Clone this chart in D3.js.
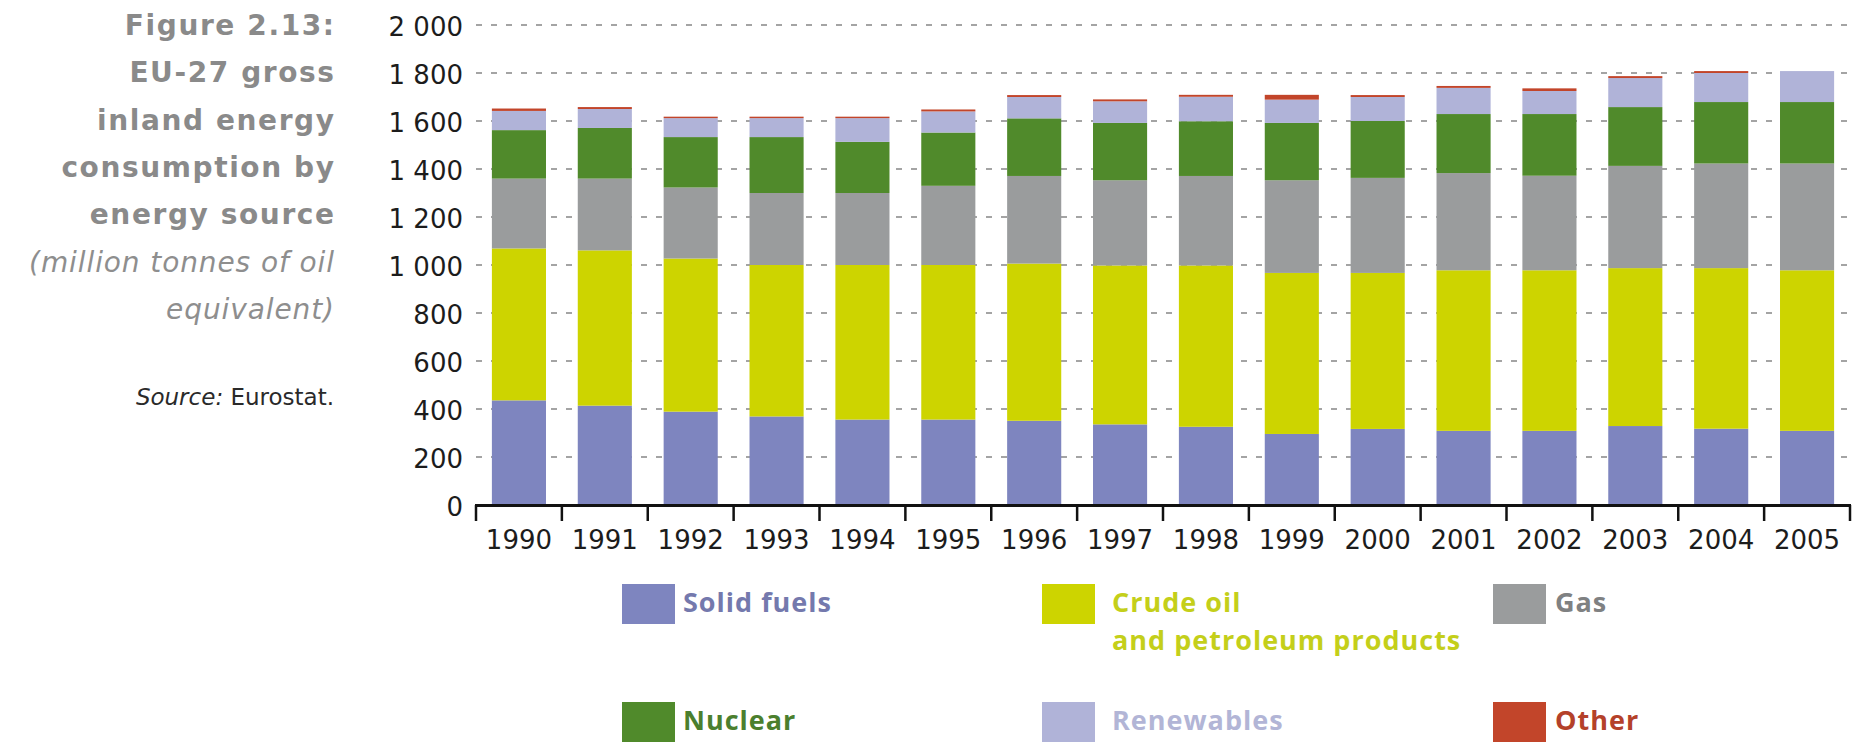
<!DOCTYPE html>
<html>
<head>
<meta charset="utf-8">
<script src="https://cdn.jsdelivr.net/npm/d3@7/dist/d3.min.js"></script>
<style>
  html, body { margin: 0; background: #fff; }
  svg { display: block; }
  .tick-label { font-family: "DejaVu Sans", sans-serif; font-size: 26px; fill: #1c1c1c; }
  .title { font-family: "DejaVu Sans", sans-serif; font-weight: bold; font-size: 28px; fill: #8a8a8a; letter-spacing: 1.6px; }
  .subtitle { font-family: "DejaVu Sans", sans-serif; font-style: italic; font-size: 28px; fill: #8e8e8e; letter-spacing: 0.9px; }
  .source { font-family: "DejaVu Sans", sans-serif; font-size: 23px; fill: #2a2a2a; }
  .legend-label { font-family: "Open Sans", sans-serif; font-weight: bold; font-size: 27px; letter-spacing: 1px; }
</style>
</head>
<body>
<svg id="chart" width="1856" height="749"></svg>
<script>
// Values, million tonnes of oil equivalent
const years = [1990, 1991, 1992, 1993, 1994, 1995, 1996, 1997, 1998, 1999, 2000, 2001, 2002, 2003, 2004, 2005];
const solidFuels = [436, 414, 389, 369, 356, 356, 351, 336, 326, 296, 317, 309, 309, 329, 318, 309];
const crudeOil   = [633, 647, 638, 631, 644, 644, 655, 662, 672, 671, 650, 669, 669, 658, 669, 669];
const gas        = [291, 299, 296, 300, 300, 330, 365, 355, 373, 386, 396, 405, 394, 426, 436, 445];
const nuclear    = [202, 211, 210, 233, 213, 222, 240, 239, 228, 239, 237, 246, 257, 245, 256, 256];
const renewables = [80, 79, 79, 79, 99, 88, 89, 90, 102, 97, 100, 109, 96, 121, 121, 129];
const other      = [10, 8, 6, 6, 6, 8, 8, 8, 8, 20, 8, 8, 11, 8, 8, 0];

const seriesKeys = ["solid", "oil", "gas", "nuclear", "renewables", "other"];
const seriesLabels = [["Solid fuels"], ["Crude oil", "and petroleum products"], ["Gas"], ["Nuclear"], ["Renewables"], ["Other"]];
const yTicks = [0, 200, 400, 600, 800, 1000, 1200, 1400, 1600, 1800, 2000];
const titleLines = ["Figure 2.13:", "EU-27 gross", "inland energy", "consumption by", "energy source"];
const subtitleLines = ["(million tonnes of oil", "equivalent)"];

const fills = ["#7e85bf", "#cdd400", "#9a9c9d", "#508a2b", "#b0b3d8", "#c2452a"];
const textFills = ["#7479ad", "#c4cf1a", "#7f8182", "#4b7f2e", "#b2b5d6", "#b4412a"];

const rows = years.map((yr, i) => ({
  year: yr,
  solid: solidFuels[i], oil: crudeOil[i], gas: gas[i],
  nuclear: nuclear[i], renewables: renewables[i], other: other[i],
}));

const svg = d3.select("#chart");

const x = d3.scaleBand().domain(years).range([476, 1850]).paddingInner(0.37).paddingOuter(0.185);
const y = d3.scaleLinear().domain([0, 2000]).range([505, 25]);
const color = d3.scaleOrdinal().domain(seriesKeys).range(fills);

// dashed gridlines behind the bars
svg.append("g").selectAll("line")
  .data(yTicks.filter(d => d > 0)).join("line")
  .attr("x1", 476).attr("x2", 1850)
  .attr("y1", d => y(d)).attr("y2", d => y(d))
  .attr("stroke", "#a4a4a4").attr("stroke-width", 2)
  .attr("stroke-dasharray", "6,9");

// stacked bars
const stacked = d3.stack().keys(seriesKeys)(rows);
svg.append("g").selectAll("g")
  .data(stacked).join("g")
  .attr("fill", d => color(d.key))
  .selectAll("rect")
  .data(d => d).join("rect")
  .attr("x", d => x(d.data.year))
  .attr("width", x.bandwidth())
  .attr("y", d => y(d[1]))
  .attr("height", d => Math.max(0, y(d[0]) - y(d[1])));

// y axis labels
const yAxis = svg.append("g")
  .attr("transform", "translate(463,2)")
  .call(d3.axisLeft(y).tickValues(yTicks).tickSize(0).tickPadding(0)
    .tickFormat(d => d3.format(",")(d).replace(",", " ")));
yAxis.select(".domain").remove();
yAxis.selectAll("text").attr("class", "tick-label").attr("font-size", null).attr("font-family", null);

// x axis: thick baseline, ticks between the categories, labels centred
const step = x.step();
const edges = d3.range(years.length + 1).map(i => x(years[0]) - step * x.paddingInner() / 2 + i * step);
svg.append("line")
  .attr("x1", edges[0] - 1).attr("x2", edges[edges.length - 1] + 1)
  .attr("y1", y(0) + 0.5).attr("y2", y(0) + 0.5)
  .attr("stroke", "#111").attr("stroke-width", 3);
svg.append("g").selectAll("line")
  .data(edges).join("line")
  .attr("x1", d => d).attr("x2", d => d)
  .attr("y1", y(0)).attr("y2", y(0) + 16)
  .attr("stroke", "#111").attr("stroke-width", 2.5);

const xAxis = svg.append("g")
  .attr("transform", `translate(0,${y(0)})`)
  .call(d3.axisBottom(x).tickSize(0).tickPadding(26));
xAxis.select(".domain").remove();
xAxis.selectAll("text").attr("class", "tick-label").attr("font-size", null).attr("font-family", null);

// title block, right aligned
const titleX = 334;
const lineGap = 47.3;
svg.append("g").selectAll("text")
  .data(titleLines).join("text")
  .attr("class", "title")
  .attr("text-anchor", "end")
  .attr("x", titleX + 1.6)
  .attr("y", (d, i) => 35 + i * lineGap)
  .text(d => d);
svg.append("g").selectAll("text")
  .data(subtitleLines).join("text")
  .attr("class", "subtitle")
  .attr("text-anchor", "end")
  .attr("x", titleX + 0.9)
  .attr("y", (d, i) => 35 + (titleLines.length + i) * lineGap)
  .text(d => d);

const src = svg.append("text").attr("class", "source")
  .attr("text-anchor", "end").attr("x", titleX).attr("y", 405);
src.append("tspan").attr("font-style", "italic").text("Source:");
src.append("tspan").text(" Eurostat.");

// legend: 3 columns x 2 rows
const legendCols = [622, 1042, 1493];
const legendTextX = [683, 1112, 1555];
const legendRows = [584, 702];
const legend = svg.append("g").selectAll("g")
  .data(seriesKeys).join("g")
  .attr("transform", (d, i) => `translate(${legendCols[i % 3]},${legendRows[Math.floor(i / 3)]})`);
legend.append("rect")
  .attr("width", 53).attr("height", 40)
  .attr("fill", d => color(d));
legend.append("text")
  .attr("class", "legend-label")
  .attr("x", (d, i) => legendTextX[i % 3] - legendCols[i % 3])
  .attr("fill", (d, i) => textFills[i])
  .selectAll("tspan")
  .data((d, i) => seriesLabels[i]).join("tspan")
  .attr("x", function () { return this.parentNode.getAttribute("x"); })
  .attr("y", (d, j) => 28 + j * 38)
  .text(d => d);
</script>
</body>
</html>
